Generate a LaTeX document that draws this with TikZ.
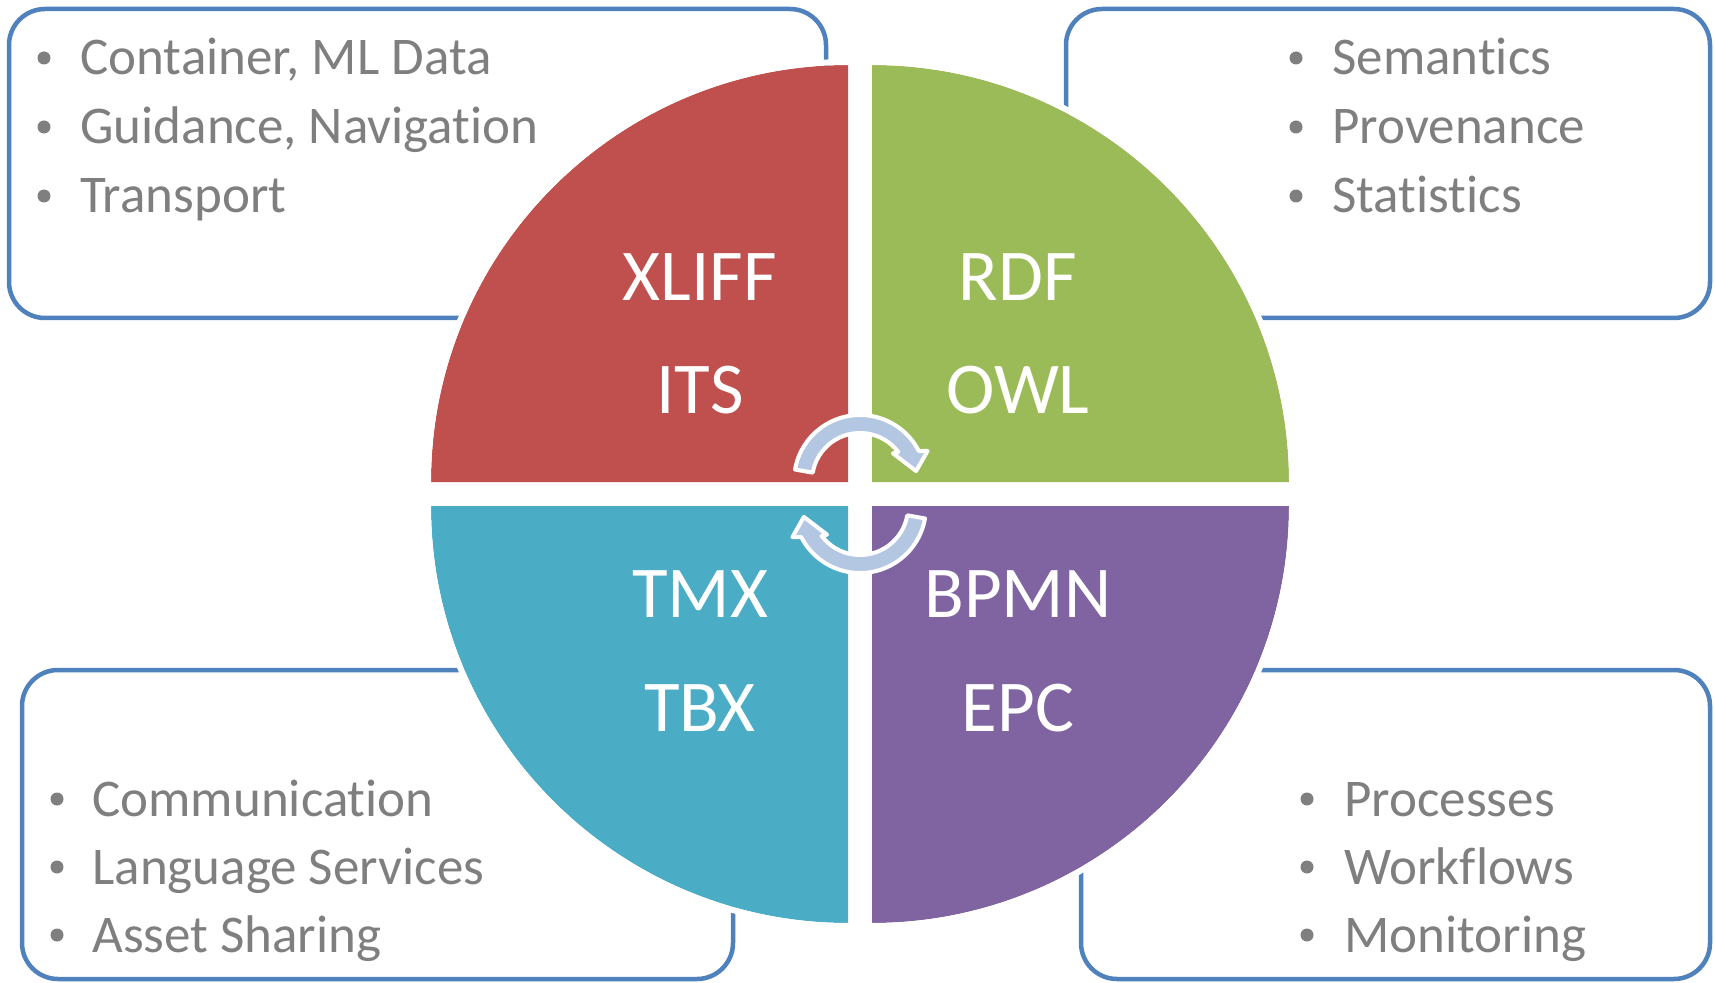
\documentclass[tikz,border=0pt]{standalone}
\usepackage{fontspec}
\setmainfont[Ligatures=NoCommon]{Carlito}
\definecolor{boxblue}{HTML}{4F81BD}
\definecolor{qred}{HTML}{C0504D}
\definecolor{qgreen}{HTML}{9BBB59}
\definecolor{qblue}{HTML}{4BACC6}
\definecolor{qpurple}{HTML}{8064A2}
\definecolor{txtgray}{HTML}{7F7F7F}
\definecolor{arrowfill}{RGB}{180,199,226}
\begin{document}
\begin{tikzpicture}[x=0.5pt,y=0.5pt,
  infobox/.style={draw=boxblue, line width=2.25pt, rounded corners=18pt},
  rim/.style={draw=white, line width=3pt},
  qlabel/.style={text=white, font=\fontsize{36.5}{40}\selectfont, inner sep=0pt},
  item/.style={text=txtgray, font=\fontsize{26.5}{30}\selectfont, anchor=base west, inner sep=0pt},
  dot/.style={fill=txtgray, circle, inner sep=0pt, minimum size=6.5pt},
  cyclearrow/.style={fill=arrowfill, draw=white, line width=2pt, line join=round}]

\useasboundingbox (0,0) rectangle (1715,982);
\fill[white] (0,0) rectangle (1715,982);

% info boxes
\draw[infobox] (9,664) rectangle (826,973);
\draw[infobox] (1066,664) rectangle (1710,973);
\draw[infobox] (22,3) rectangle (733,312);
\draw[infobox] (1081,3) rectangle (1710,312);

% quadrants
\fill[qred] (848,500) -- (431,500) arc[start angle=180,end angle=90,radius=417] -- cycle;
\fill[qgreen] (872,500) -- (1289,500) arc[start angle=0,end angle=90,radius=417] -- cycle;
\fill[qblue] (848,476) -- (431,476) arc[start angle=180,end angle=270,radius=417] -- cycle;
\fill[qpurple] (872,476) -- (1289,476) arc[start angle=0,end angle=-90,radius=417] -- cycle;
\draw[rim] (428,500) arc[start angle=180,end angle=90,radius=420];
\draw[rim] (1292,500) arc[start angle=0,end angle=90,radius=420];
\draw[rim] (428,476) arc[start angle=180,end angle=270,radius=420];
\draw[rim] (1292,476) arc[start angle=0,end angle=-90,radius=420];

% quadrant labels
\node[qlabel] (xliff) at (700,705) {XLIFF};
\node[qlabel] (its) at (700,592) {ITS};
\node[qlabel] (rdf) at (1018,705) {RDF};
\node[qlabel] (owl) at (1018,592) {OWL};
\node[qlabel] (tmx) at (700,388) {TMX};
\node[qlabel] (tbx) at (700,274) {TBX};
\node[qlabel] (bpmn) at (1018,388) {BPMN};
\node[qlabel] (epc) at (1018,274) {EPC};

% bullet lists
\node[dot] (d1) at (44,924) {};
\node[dot] (d2) at (44,855) {};
\node[dot] (d3) at (44,786) {};
\node[item] (t1) at (80,907) {Container, ML Data};
\node[item] (t2) at (80,838) {Guidance, Navigation};
\node[item] (t3) at (80,769) {Transport};

\node[dot] (d4) at (1296,924) {};
\node[dot] (d5) at (1296,855) {};
\node[dot] (d6) at (1296,786) {};
\node[item] (t4) at (1332,907) {Semantics};
\node[item] (t5) at (1332,838) {Provenance};
\node[item] (t6) at (1332,769) {Statistics};

\node[dot] (d7) at (57,183) {};
\node[dot] (d8) at (57,115) {};
\node[dot] (d9) at (57,47) {};
\node[item] (t7) at (92,166) {Communication};
\node[item] (t8) at (92,98) {Language Services};
\node[item] (t9) at (92,30) {Asset Sharing};

\node[dot] (d10) at (1307,183) {};
\node[dot] (d11) at (1307,115) {};
\node[dot] (d12) at (1307,47) {};
\node[item] (t10) at (1344,166) {Processes};
\node[item] (t11) at (1344,98) {Workflows};
\node[item] (t12) at (1344,30) {Monitoring};

% cycle arrows
\filldraw[cyclearrow] ([shift={(860,501)}]170:66) arc[start angle=170,end angle=27,radius=66]
  -- ([shift={(860,501)}]24:74) -- ([shift={(860,501)}]10:57) -- ([shift={(860,501)}]40:43)
  -- ([shift={(860,501)}]37:48) arc[start angle=37,end angle=170,radius=48] -- cycle;
\begin{scope}[rotate around={180:(860,488)}]
\filldraw[cyclearrow] ([shift={(860,501)}]170:66) arc[start angle=170,end angle=27,radius=66]
  -- ([shift={(860,501)}]24:74) -- ([shift={(860,501)}]10:57) -- ([shift={(860,501)}]40:43)
  -- ([shift={(860,501)}]37:48) arc[start angle=37,end angle=170,radius=48] -- cycle;
\end{scope}
\end{tikzpicture}
\end{document}
